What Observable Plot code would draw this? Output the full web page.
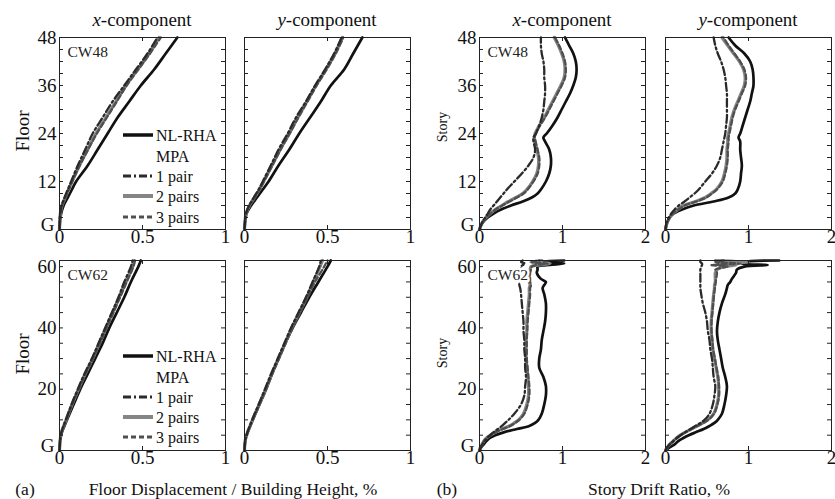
<!DOCTYPE html>
<html><head><meta charset="utf-8">
<script src="https://cdn.jsdelivr.net/npm/d3@7"></script>
<script src="https://cdn.jsdelivr.net/npm/@observablehq/plot@0.6"></script>
<style>
body{margin:0;background:#fff;}
#root{position:relative;width:835px;height:499px;font-family:"Liberation Serif","Times New Roman",serif;color:#111;overflow:hidden;background:#fff;}
.abs{position:absolute;white-space:nowrap;line-height:1;}
.c{transform:translate(-50%,-50%);}
.rot{transform:translate(-50%,-50%) rotate(-90deg);}
svg{overflow:visible;}
</style></head><body><div id="root"></div>
<script>
// ---------- levels (floors / stories) ----------
const floors48 = [0,2,4,6,8,10,12,16,20,24,28,32,36,40,44,48];
const floors62 = [0,2,4,6,8,10,15,20,25,30,35,40,45,50,55,60,62];
const stories48 = [0,1,2,3,4,5,6,7,8,9,10,12,14,16,18,20,22,23,24,26,28,30,32,34,36,38,40,42,44,46,48];
const stories62 = [0,1,2,3,4,5,6,7,8,9,10,12,15,18,21,24,27,30,33,36,39,42,45,48,51,53,54,55,56,58,59,60,60.5,61,61.5,62];

// ---------- CW48 floor displacement / height (%) ----------
const dispX48_nlrha = [0,.003,.01,.025,.05,.075,.10,.17,.23,.29,.35,.42,.49,.57,.64,.71];
const dispX48_mpa1  = [0,.001,.004,.013,.03,.05,.07,.11,.155,.20,.26,.32,.39,.46,.53,.59];
const dispX48_mpa2  = [0,.002,.005,.015,.035,.055,.075,.12,.17,.22,.28,.34,.40,.47,.54,.60];
const dispX48_mpa3  = [0,.002,.005,.016,.036,.056,.077,.122,.172,.225,.285,.345,.405,.475,.545,.61];
const dispY48_nlrha = [0,.004,.012,.04,.075,.11,.145,.205,.27,.33,.395,.46,.52,.60,.655,.71];
const dispY48_mpa1  = [0,.003,.009,.028,.056,.085,.11,.158,.205,.26,.31,.37,.425,.485,.54,.585];
const dispY48_mpa2  = [0,.003,.01,.03,.06,.09,.115,.165,.215,.27,.32,.375,.43,.49,.545,.59];
const dispY48_mpa3  = [0,.003,.01,.031,.062,.092,.117,.168,.218,.272,.325,.38,.435,.495,.55,.595];

// ---------- CW62 floor displacement / height (%) ----------
const dispX62_nlrha = [0,.002,.006,.015,.03,.045,.085,.125,.17,.215,.26,.30,.345,.39,.43,.475,.49];
const dispX62_mpa1  = [0,.002,.005,.012,.024,.038,.072,.11,.15,.195,.235,.275,.315,.355,.39,.43,.44];
const dispX62_mpa2  = [0,.002,.005,.012,.025,.04,.075,.115,.155,.20,.24,.28,.32,.36,.40,.44,.45];
const dispX62_mpa3  = [0,.002,.005,.013,.026,.041,.077,.117,.158,.203,.245,.285,.325,.365,.405,.445,.455];
const dispY62_nlrha = [0,.002,.008,.02,.035,.05,.09,.13,.165,.205,.245,.29,.34,.39,.445,.50,.52];
const dispY62_mpa1  = [0,.002,.007,.018,.032,.046,.085,.123,.16,.20,.24,.28,.325,.37,.41,.45,.46];
const dispY62_mpa2  = [0,.002,.007,.019,.033,.048,.088,.128,.165,.205,.245,.285,.33,.375,.415,.455,.47];
const dispY62_mpa3  = [0,.002,.007,.019,.034,.05,.09,.13,.168,.208,.248,.29,.335,.38,.425,.48,.50];

// ---------- CW48 story drift ratio (%) ----------
const driftX48_nlrha = [0,.02,.05,.10,.17,.26,.38,.52,.63,.70,.74,.80,.84,.86,.86,.84,.79,.77,.81,.88,.94,.99,1.04,1.09,1.13,1.16,1.17,1.16,1.13,1.08,1.03];
const driftX48_mpa1  = [0,.016,.04,.068,.10,.13,.17,.21,.25,.29,.33,.42,.51,.59,.65,.67,.65,.65,.68,.72,.75,.77,.78,.79,.79,.78,.78,.77,.75,.74,.74];
const driftX48_mpa2  = [0,.015,.04,.08,.13,.19,.27,.35,.44,.52,.57,.64,.69,.71,.71,.69,.67,.66,.67,.72,.78,.83,.88,.93,.98,1.02,1.03,1.02,.99,.95,.90];
const driftX48_mpa3  = [0,.016,.042,.082,.135,.195,.275,.36,.45,.53,.58,.65,.70,.72,.72,.70,.675,.665,.68,.73,.79,.84,.89,.94,.99,1.03,1.04,1.03,1.0,.96,.91];
const driftY48_nlrha = [0,.01,.025,.05,.10,.20,.34,.58,.76,.84,.87,.90,.91,.92,.91,.90,.90,.88,.90,.93,.96,.99,1.02,1.04,1.06,1.06,1.05,1.02,.95,.84,.76];
const driftY48_mpa1  = [0,.005,.02,.04,.07,.11,.16,.23,.29,.35,.40,.48,.56,.62,.66,.68,.70,.71,.72,.73,.74,.74,.74,.74,.73,.72,.70,.67,.63,.60,.58];
const driftY48_mpa2  = [0,.01,.025,.05,.09,.15,.22,.36,.48,.55,.61,.68,.71,.73,.74,.74,.75,.75,.76,.78,.80,.83,.87,.91,.95,.96,.94,.89,.82,.75,.68];
const driftY48_mpa3  = [0,.01,.026,.052,.092,.155,.23,.37,.49,.56,.62,.69,.72,.74,.75,.75,.76,.76,.77,.79,.81,.84,.88,.92,.96,.97,.95,.90,.83,.76,.70];

// ---------- CW62 story drift ratio (%) ----------
const driftX62_nlrha = [0,.02,.05,.08,.12,.19,.30,.45,.60,.67,.71,.75,.78,.80,.80,.77,.72,.72,.74,.75,.77,.79,.80,.80,.78,.76,.78,.80,.74,.69,.70,.70,.80,1.02,.64,1.02];
const driftX62_mpa1  = [0,.015,.035,.06,.09,.13,.17,.22,.27,.31,.35,.42,.50,.54,.55,.56,.55,.55,.54,.54,.53,.53,.52,.51,.50,.49,.48,.48,.48,.49,.50,.50,.52,.55,.50,.52];
const driftX62_mpa2  = [0,.01,.03,.05,.08,.13,.19,.27,.36,.42,.47,.53,.57,.59,.59,.58,.57,.56,.56,.56,.57,.57,.58,.59,.60,.60,.61,.60,.60,.60,.61,.62,.70,.85,.62,.75];
const driftX62_mpa3  = [0,.011,.032,.052,.085,.135,.20,.28,.37,.43,.48,.54,.58,.60,.60,.59,.58,.57,.57,.57,.575,.58,.59,.60,.61,.61,.62,.61,.61,.61,.62,.63,.68,.82,.63,.72];
const driftY62_nlrha = [0,.05,.11,.15,.21,.28,.37,.46,.53,.59,.63,.68,.71,.73,.74,.72,.69,.67,.65,.63,.62,.63,.65,.68,.72,.74,.75,.78,.80,.85,.86,.95,1.23,.92,.95,1.37];
const driftY62_mpa1  = [0,.02,.05,.09,.13,.18,.24,.30,.36,.42,.47,.53,.57,.59,.60,.58,.57,.56,.54,.53,.51,.50,.48,.45,.43,.42,.42,.42,.42,.42,.42,.43,.44,.44,.42,.42];
const driftY62_mpa2  = [0,.02,.05,.09,.13,.18,.24,.31,.38,.45,.51,.58,.62,.64,.64,.63,.61,.59,.57,.56,.55,.55,.56,.57,.58,.59,.59,.60,.60,.60,.62,.70,.85,.62,1.0,.60];
const driftY62_mpa3  = [0,.021,.052,.092,.135,.185,.245,.315,.385,.455,.515,.585,.625,.645,.645,.635,.615,.595,.575,.565,.555,.555,.565,.575,.585,.595,.60,.605,.61,.62,.60,.75,.55,.90,.60,.70];

// ---------- ticks & labels ----------
const yMajor48 = [12,24,36,48];
const yMajor62 = [20,40,60];
const yGround = [0];
const yMinor48 = [0,3,6,9,12,15,18,21,24,27,30,33,36,39,42,45,48];
const yMinor62 = [0,5,10,15,20,25,30,35,40,45,50,55,60];
const dispTicks = [0,0.5,1];
const driftTicks = [0,1,2];
const colTitles = ["x","y","x","y"];
const legendLabels = ["NL-RHA","MPA","1 pair","2 pairs","3 pairs"];

// ---------- styles ----------
const FONT = '"Liberation Serif","Times New Roman",serif';
const sty = {
  nlrha: {stroke:"#111", strokeWidth:2.7},
  mpa2:  {stroke:"#858585", strokeWidth:3.2},
  mpa3:  {stroke:"#4f4f4f", strokeWidth:2.3, strokeDasharray:"5,3"},
  mpa1:  {stroke:"#2a2a2a", strokeWidth:2.3, strokeDasharray:"8,3,2,3"}
};

const colsX = [59,244,479,665];
const W = 166;
const rowsY = [{top:37,h:192},{top:260,h:190}];

const panels = [
  {c:0,r:0,levels:floors48,xDomain:[0,1],xTicks:dispTicks,yDomain:[0,48],yMajor:yMajor48,yMinor:yMinor48,ylab:true,tag:"CW48",
   s:{nlrha:dispX48_nlrha,mpa1:dispX48_mpa1,mpa2:dispX48_mpa2,mpa3:dispX48_mpa3}},
  {c:1,r:0,levels:floors48,xDomain:[0,1],xTicks:dispTicks,yDomain:[0,48],yMajor:yMajor48,yMinor:yMinor48,ylab:false,
   s:{nlrha:dispY48_nlrha,mpa1:dispY48_mpa1,mpa2:dispY48_mpa2,mpa3:dispY48_mpa3}},
  {c:2,r:0,levels:stories48,xDomain:[0,2],xTicks:driftTicks,yDomain:[0,48],yMajor:yMajor48,yMinor:yMinor48,ylab:true,tag:"CW48",
   s:{nlrha:driftX48_nlrha,mpa1:driftX48_mpa1,mpa2:driftX48_mpa2,mpa3:driftX48_mpa3}},
  {c:3,r:0,levels:stories48,xDomain:[0,2],xTicks:driftTicks,yDomain:[0,48],yMajor:yMajor48,yMinor:yMinor48,ylab:false,
   s:{nlrha:driftY48_nlrha,mpa1:driftY48_mpa1,mpa2:driftY48_mpa2,mpa3:driftY48_mpa3}},
  {c:0,r:1,levels:floors62,xDomain:[0,1],xTicks:dispTicks,yDomain:[0,62],yMajor:yMajor62,yMinor:yMinor62,ylab:true,tag:"CW62",
   s:{nlrha:dispX62_nlrha,mpa1:dispX62_mpa1,mpa2:dispX62_mpa2,mpa3:dispX62_mpa3}},
  {c:1,r:1,levels:floors62,xDomain:[0,1],xTicks:dispTicks,yDomain:[0,62],yMajor:yMajor62,yMinor:yMinor62,ylab:false,
   s:{nlrha:dispY62_nlrha,mpa1:dispY62_mpa1,mpa2:dispY62_mpa2,mpa3:dispY62_mpa3}},
  {c:2,r:1,levels:stories62,xDomain:[0,2],xTicks:driftTicks,yDomain:[0,62],yMajor:yMajor62,yMinor:yMinor62,ylab:true,tag:"CW62",
   s:{nlrha:driftX62_nlrha,mpa1:driftX62_mpa1,mpa2:driftX62_mpa2,mpa3:driftX62_mpa3}},
  {c:3,r:1,levels:stories62,xDomain:[0,2],xTicks:driftTicks,yDomain:[0,62],yMajor:yMajor62,yMinor:yMinor62,ylab:false,
   s:{nlrha:driftY62_nlrha,mpa1:driftY62_mpa1,mpa2:driftY62_mpa2,mpa3:driftY62_mpa3}}
];

const root = document.getElementById("root");
const mL = 40, mR = 6, mT = 6, mB = 28;

function makePanel(p) {
  const H = rowsY[p.r].h;
  const marks = [];
  const rows = vals => p.levels.map((lv,i)=>({lv, v: vals[i]}));
  for (const k of ["nlrha","mpa2","mpa3","mpa1"]) {
    marks.push(Plot.line(rows(p.s[k]), {x:"v", y:"lv", curve:"catmull-rom", strokeLinejoin:"round", ...sty[k]}));
  }
  if (p.tag) marks.push(Plot.text([p.tag], {frameAnchor:"top-left", dx:8, dy:8, text:d=>d, fontSize:15.5, fill:"#222", stroke:"white", strokeWidth:5, textAnchor:"start", lineAnchor:"top"}));
  marks.push(
    Plot.tickY(p.yMinor, {y:d=>d, insetRight:W-4, stroke:"#222"}),
    Plot.tickY(p.yMinor, {y:d=>d, insetLeft:W-4, stroke:"#222"}),
    Plot.tickX(p.xTicks, {x:d=>d, insetTop:H-4, stroke:"#222"}),
    Plot.tickX(p.xTicks, {x:d=>d, insetBottom:H-4, stroke:"#222"}),
    Plot.axisX(p.xTicks, {tickSize:0, tickPadding:0, tickFormat:d=>String(d), fontSize:19, label:null}),
    Plot.frame({stroke:"#222", strokeWidth:1})
  );
  if (p.ylab) {
    marks.push(Plot.axisY(p.yMajor, {tickSize:0, tickPadding:3, tickFormat:d=>String(d), fontSize:19, label:null}));
    marks.push(Plot.axisY(yGround, {tickSize:0, tickPadding:5, dy:-5, tickFormat:()=>"G", fontSize:19, label:null}));
  }
  const svg = Plot.plot({
    width: W+mL+mR, height: H+mT+mB,
    marginLeft:mL, marginRight:mR, marginTop:mT, marginBottom:mB,
    x:{domain:p.xDomain}, y:{domain:p.yDomain, ...(p.ylab ? {} : {axis:null})},
    style:{fontFamily:FONT, color:"#111", background:"transparent", overflow:"visible"},
    marks
  });
  svg.style.position = "absolute";
  svg.style.left = (colsX[p.c]-mL)+"px";
  svg.style.top = (rowsY[p.r].top-mT)+"px";
  root.appendChild(svg);
}
panels.forEach(makePanel);

function addText(html, x, y, size, cls) {
  const d = document.createElement("div");
  d.className = "abs " + (cls||"c");
  d.style.left = x+"px"; d.style.top = y+"px"; d.style.fontSize = size+"px";
  d.innerHTML = html;
  root.appendChild(d);
}
colTitles.forEach((t,i)=> addText(`<i>${t}</i>-component`, colsX[i]+W/2, 19, 19));
addText("Floor", 22, 131, 19, "rot");
addText("Floor", 22, 354, 19, "rot");
addText("Story", 443, 127, 14, "rot");
addText("Story", 443, 353, 14, "rot");
addText("(a)", 25, 490, 17.5);
addText("Floor Displacement / Building Height, %", 233, 490, 17.5);
addText("(b)", 447, 490, 17.5);
addText("Story Drift Ratio, %", 659, 490, 17.5);

// legends (inside the left displacement panels)
function addLegend(rowsYpos) {
  const ns = "http://www.w3.org/2000/svg";
  const svg = document.createElementNS(ns, "svg");
  svg.setAttribute("width", 835); svg.setAttribute("height", 499);
  svg.style.position = "absolute"; svg.style.left = "0px"; svg.style.top = "0px";
  const keyStyle = [sty.nlrha, null, sty.mpa1, sty.mpa2, sty.mpa3];
  legendLabels.forEach((lab,i)=>{
    const y = rowsYpos[i];
    const st = keyStyle[i];
    if (st) {
      const l = document.createElementNS(ns,"line");
      l.setAttribute("x1",123); l.setAttribute("x2",153); l.setAttribute("y1",y); l.setAttribute("y2",y);
      l.setAttribute("stroke", st.stroke); l.setAttribute("stroke-width", st.strokeWidth+0.8);
      if (st.strokeDasharray) l.setAttribute("stroke-dasharray", st.strokeDasharray);
      svg.appendChild(l);
    }
    const t = document.createElementNS(ns,"text");
    t.setAttribute("x",156); t.setAttribute("y",y); t.setAttribute("dy","0.35em");
    t.setAttribute("font-family", FONT); t.setAttribute("font-size", 16); t.setAttribute("fill","#111");
    t.textContent = lab;
    svg.appendChild(t);
  });
  root.appendChild(svg);
}
addLegend([135,156,176,196,217]);
addLegend([356,377,397,417,437]);
</script></body></html>
